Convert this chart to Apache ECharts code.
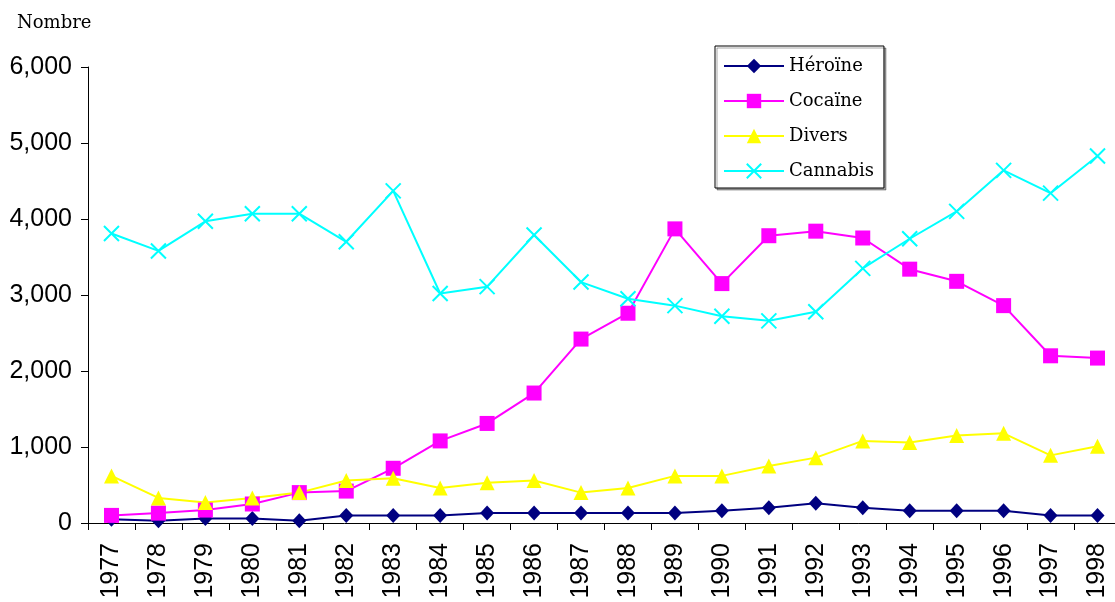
<!DOCTYPE html>
<html>
<head>
<meta charset="utf-8">
<script src="https://cdn.jsdelivr.net/npm/echarts@6/dist/echarts.min.js"></script>
<style>
html,body{margin:0;padding:0;background:#fff;}
#chart{width:1115px;height:602px;}
</style>
</head>
<body>
<div id="chart"></div>
<script>
const years = ['1977','1978','1979','1980','1981','1982','1983','1984','1985','1986','1987','1988','1989','1990','1991','1992','1993','1994','1995','1996','1997','1998'];
const heroine  = [50, 30, 60, 60, 30, 100, 100, 100, 130, 130, 130, 130, 130, 160, 200, 260, 200, 160, 160, 160, 100, 100];
const cocaine  = [100, 130, 170, 250, 400, 420, 720, 1080, 1310, 1710, 2420, 2760, 3870, 3150, 3780, 3840, 3750, 3340, 3180, 2860, 2200, 2170];
const divers   = [620, 330, 270, 330, 400, 560, 590, 460, 530, 560, 400, 460, 620, 620, 750, 860, 1080, 1060, 1150, 1180, 890, 1010];
const cannabis = [3810, 3580, 3970, 4070, 4070, 3700, 4370, 3020, 3110, 3790, 3170, 2950, 2860, 2720, 2660, 2780, 3350, 3740, 4100, 4640, 4340, 4830];
const yTicks = [0, 1000, 2000, 3000, 4000, 5000, 6000];

const chart = echarts.init(document.getElementById('chart'), null, {renderer: 'canvas'});
const serifFont = '"DejaVu Serif", serif';
const sansFont = '"Liberation Sans", Arial, sans-serif';
chart.setOption({
  backgroundColor: '#fff',
  animation: false,
  title: {
    text: 'Nombre',
    left: 12, top: 9,
    textStyle: {fontFamily: serifFont, fontSize: 18, fontWeight: 'normal', color: '#000'}
  },
  legend: {
    orient: 'vertical',
    left: 715, top: 46,
    padding: [11, 10, 8, 8],
    itemWidth: 60, itemHeight: 18, itemGap: 17,
    borderColor: '#000', borderWidth: 1,
    backgroundColor: '#fff',
    shadowColor: 'rgba(0,0,0,0.35)', shadowBlur: 0, shadowOffsetX: 2, shadowOffsetY: 2,
    textStyle: {fontFamily: serifFont, fontSize: 18, color: '#000'},
    data: ['Héroïne', 'Cocaïne', 'Divers', 'Cannabis']
  },
  grid: {left: 88, right: -6, top: 67, bottom: 79, containLabel: false, outerBoundsMode: 'none'},
  xAxis: {
    type: 'category',
    data: years,
    boundaryGap: true,
    axisLine: {lineStyle: {color: '#000', width: 1}},
    axisTick: {show: true, inside: false, length: 7, alignWithLabel: false, lineStyle: {color: '#000'}},
    axisLabel: {rotate: 90, interval: 0, margin: 20, fontFamily: sansFont, fontSize: 25, color: '#000'},
    splitLine: {show: false}
  },
  yAxis: {
    type: 'value',
    min: 0, max: 6000, interval: 1000,
    axisLine: {show: true, lineStyle: {color: '#000', width: 1}},
    axisTick: {show: true, inside: false, length: 7, lineStyle: {color: '#000'}},
    axisLabel: {margin: 16, fontFamily: sansFont, fontSize: 25, color: '#000',
      formatter: v => yTicks.includes(v) ? v.toLocaleString('en-US') : ''},
    splitLine: {show: false}
  },
  series: [
    {
      name: 'Héroïne', type: 'line', data: heroine,
      symbol: 'diamond', symbolSize: [14, 15],
      lineStyle: {color: '#000080', width: 2},
      itemStyle: {color: '#000080'}
    },
    {
      name: 'Cocaïne', type: 'line', data: cocaine,
      symbol: 'rect', symbolSize: 15,
      lineStyle: {color: '#FF00FF', width: 2},
      itemStyle: {color: '#FF00FF'}
    },
    {
      name: 'Divers', type: 'line', data: divers,
      symbol: 'triangle', symbolSize: 15,
      lineStyle: {color: '#FFFF00', width: 2},
      itemStyle: {color: '#FFFF00'}
    },
    {
      name: 'Cannabis', type: 'line', data: cannabis,
      symbol: 'path://M0,0L10,10M10,0L0,10', symbolSize: 15,
      lineStyle: {color: '#00FFFF', width: 2},
      itemStyle: {color: '#00FFFF', borderColor: '#00FFFF', borderWidth: 2}
    }
  ]
});
</script>
</body>
</html>
